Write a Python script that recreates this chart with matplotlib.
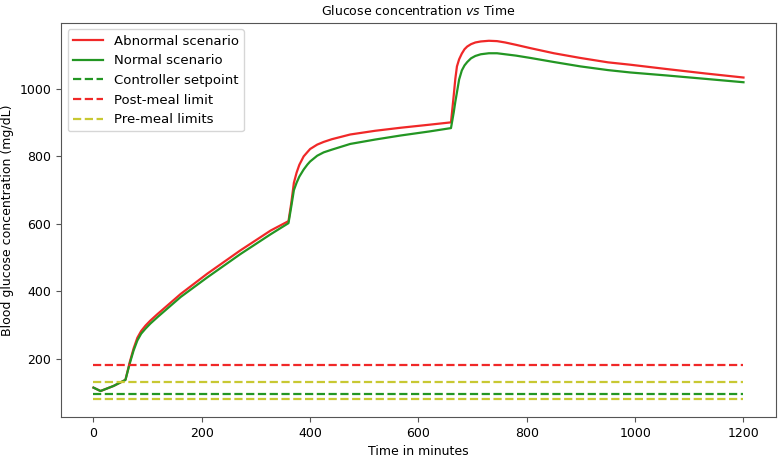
import matplotlib
matplotlib.use("Agg")
import matplotlib.pyplot as plt

# Glucose readings (mg/dL), per time point (minutes)
time_min = [0, 13, 37, 59, 67, 74, 81, 88, 96, 105, 118, 161, 210, 271, 327, 360,
            365, 370, 375, 380, 388, 395, 400, 413, 425, 440, 474, 520, 567, 620, 660,
            665, 668, 671, 675, 680, 685, 690, 697, 705, 715, 730, 745, 760, 780,
            807, 850, 899, 950, 991, 1059, 1130, 1200]

abnormal = [114, 104, 119, 137, 190, 230, 262, 282, 298, 313, 332, 392, 452, 521, 580, 608,
            660, 722, 752, 775, 800, 813, 822, 835, 843, 851, 865, 876, 885, 894, 901,
            980, 1030, 1067, 1088, 1105, 1118, 1126, 1133, 1138, 1141, 1143, 1142, 1138, 1131,
            1121, 1106, 1092, 1079, 1072, 1059, 1046, 1034]

normal = [114, 104, 119, 137, 186, 224, 254, 274, 289, 304, 323, 383, 441, 510, 569, 602,
          650, 700, 722, 740, 761, 776, 785, 802, 812, 820, 837, 850, 862, 874, 884,
          930, 962, 990, 1028, 1055, 1070, 1080, 1091, 1098, 1103, 1106, 1106, 1103, 1099,
          1092, 1080, 1067, 1056, 1049, 1040, 1030, 1020]

span = [0, 1200]
setpoint = 95
post_meal_limit = 180
pre_meal_limits = [80, 130]

red = '#f02828'
green = '#239623'
yellow = '#c8c832'

plt.rcParams['font.family'] = ['DejaVu Sans']
plt.rcParams['font.size'] = 9

fig = plt.figure(figsize=(7.78, 4.61), dpi=100)
ax = fig.add_axes([0.0784, 0.0954, 0.919, 0.855])

ax.plot(time_min, abnormal, color=red, lw=1.6, label='Abnormal scenario')
ax.plot(time_min, normal, color=green, lw=1.6, label='Normal scenario')
ax.plot(span, [setpoint] * 2, color=green, ls='--', lw=1.6, label='Controller setpoint')
ax.plot(span, [post_meal_limit] * 2, color=red, ls='--', lw=1.6, label='Post-meal limit')
ax.plot(span, [pre_meal_limits[1]] * 2, color=yellow, ls='--', lw=1.6, label='Pre-meal limits')
ax.plot(span, [pre_meal_limits[0]] * 2, color=yellow, ls='--', lw=1.6)

ax.set_xticks([0, 200, 400, 600, 800, 1000, 1200])
ax.set_yticks([200, 400, 600, 800, 1000])
for s in ax.spines.values():
    s.set_color('#555555')
ax.tick_params(colors='#555555', labelcolor='black')

ax.set_title('Glucose concentration $\\it{vs}$ Time', fontsize=9)
ax.set_xlabel('Time in minutes')
ax.set_ylabel('Blood glucose concentration (mg/dL)')
ax.legend(loc='upper left', fontsize=9.5, handlelength=2.3)

fig.savefig('out.png', dpi=100)
